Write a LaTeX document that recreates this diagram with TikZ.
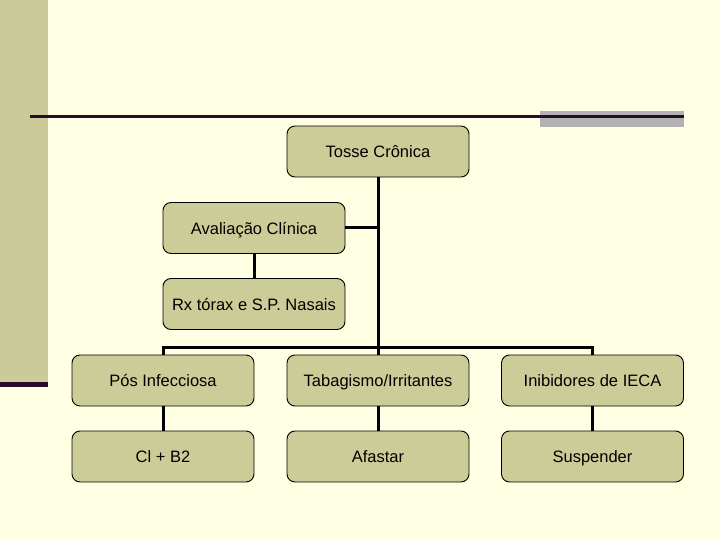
\documentclass[tikz,border=0pt]{standalone}
\usepackage{fontspec}
\setmainfont{Liberation Sans}
\definecolor{bgc}{HTML}{FFFFE3}
\definecolor{bandc}{HTML}{CBCB99}
\definecolor{boxc}{HTML}{CCCC99}
\definecolor{darkl}{HTML}{2A0A2A}
\definecolor{grayr}{HTML}{B2B2B2}
\begin{document}
\begin{tikzpicture}[x=1pt,y=-1pt,
  box/.style={draw=black,line width=0.9pt,fill=boxc,rounded corners=8pt,
    minimum width=182pt,minimum height=51pt,inner sep=0pt,
    text height=12pt,text depth=0pt,
    font=\fontsize{16.5}{19}\selectfont,anchor=center},
  conn/.style={line width=3pt,draw=black}]
\useasboundingbox (0,0) rectangle (720,540);
\fill[bgc] (0,0) rectangle (720,540);
\fill[bandc] (0,0) rectangle (48,382);
\fill[darkl] (0,382) rectangle (48,386.5);
\fill[grayr] (540,111) rectangle (684,127);
\draw[darkl,line width=3pt] (30,117) -- (684,117);
% nodes
\node[box] (tosse) at (378,151.5) {Tosse Crônica};
\node[box] (aval) at (254,228) {Avaliação Clínica};
\node[box] (rx) at (254,304) {Rx tórax e S.P. Nasais};
\node[box] (pos) at (163,380.5) {Pós Infecciosa};
\node[box] (tab) at (378,380.5) {Tabagismo/Irritantes};
\node[box] (iec) at (592.5,380.5) {Inibidores de IECA};
\node[box] (cl) at (163,456.5) {Cl + B2};
\node[box] (afa) at (378,456.5) {Afastar};
\node[box] (sus) at (592.5,456.5) {Suspender};
\coordinate (bus) at (378,347);
% connectors
\draw[conn] (tosse.south) -- (tab.north);
\draw[conn] (aval.east) -- (aval.east -| tosse.south);
\draw[conn] (aval.south) -- (rx.north);
\draw[conn] (pos.north) |- (bus) -| (iec.north);
\draw[conn] (pos.south) -- (cl.north);
\draw[conn] (tab.south) -- (afa.north);
\draw[conn] (iec.south) -- (sus.north);
\end{tikzpicture}
\end{document}
